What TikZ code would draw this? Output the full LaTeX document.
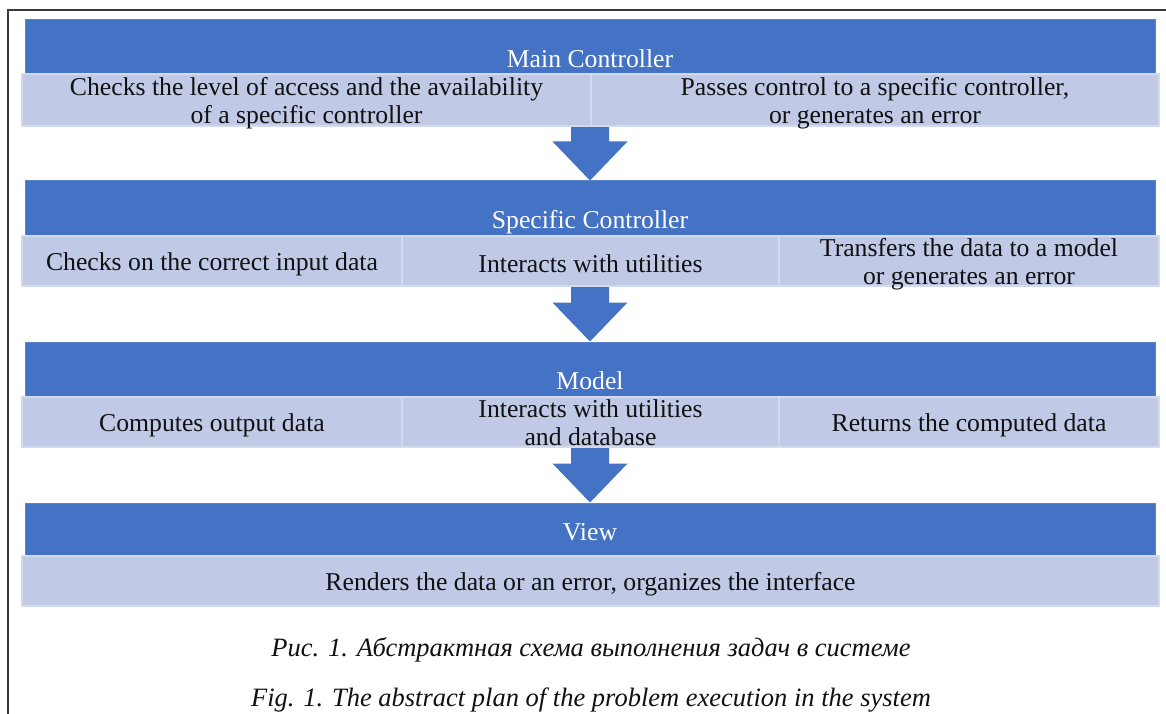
\documentclass[tikz,border=0pt]{standalone}
\usepackage{fontspec}
\setmainfont{Liberation Serif}
\usetikzlibrary{calc}
\definecolor{ink}{HTML}{111111}
\definecolor{rule}{HTML}{3A3A3A}
\definecolor{accent}{HTML}{4472C4}
\definecolor{band}{HTML}{C0C9E6}
\definecolor{bandedge}{HTML}{D4DAEE}
\tikzset{
  base/.style={inner sep=0pt, align=center, font=\fontsize{25.7}{28}\selectfont},
  hdr/.style={base, fill=accent, draw=accent!88!white, line width=1pt, minimum width=1130, minimum height=#1},
  ttl/.style={base, text=white, anchor=base},
  cell/.style={base, fill=band, draw=bandedge, line width=1.5pt, minimum width=#1, minimum height=50},
  txt/.style={base, text=ink, yshift=-3pt},
  figcap/.style={base, font=\fontsize{26.5}{28}\itshape, text=ink},
  down/.style={fill=accent},
}

\begin{document}
\begin{tikzpicture}[x=1pt, y=-1pt]
  \useasboundingbox (0,0) rectangle (1166,714);
  \draw[rule, line width=1.5pt] (8,714) -- (8,10) -- (1166,10);

  \node[hdr=54] (mc) at (590,47) {};
  \node[hdr=55] (sc) at (590,208.5) {};
  \node[hdr=55] (md) at (590,369.5) {};
  \node[hdr=53] (vw) at (590,529.5) {};

  \foreach \a/\b in {mc/sc, sc/md, md/vw}
    \fill[down] ($(\a.south)+(-19,0)$) -- ($(\b.north)+(-19,-39)$) -- ($(\b.north)+(-37.5,-39)$)
      -- (\b.north) -- ($(\b.north)+(37.5,-39)$) -- ($(\b.north)+(19,-39)$) -- ($(\a.south)+(19,0)$) -- cycle;

  \node[ttl] (mct) at (590,67.5) {Main Controller};
  \node[ttl] (sct) at (590,228) {Specific Controller};
  \node[ttl] (mdt) at (590,389) {Model};
  \node[ttl] (vwt) at (590,540) {View};

  \node[cell=569, minimum height=52, label={[txt]center:{Checks the level of access and the availability\\of a specific controller}}] (mc1) at (306.5,100) {};
  \node[cell=568, minimum height=52, label={[txt]center:{Passes control to a specific controller,\\or generates an error}}] (mc2) at (875,100) {};

  \node[cell=380, label={[txt]center:Checks on the correct input data}] (sc1) at (212,261) {};
  \node[cell=377, label={[txt]center:Interacts with utilities}] (sc2) at (590.5,261) {};
  \node[cell=380, label={[txt]center:{Transfers the data to a model\\or generates an error}}] (sc3) at (969,261) {};

  \node[cell=380, label={[txt]center:Computes output data}] (md1) at (212,422) {};
  \node[cell=377, label={[txt, yshift=2pt]center:{Interacts with utilities\\and database}}] (md2) at (590.5,422) {};
  \node[cell=380, label={[txt]center:Returns the computed data}] (md3) at (969,422) {};

  \node[cell=1137, label={[txt]center:{Renders the data or an error, organizes the interface}}] (vw1) at (590.5,581) {};

  \node[figcap] (ru) at (591,649.5) {Рис. 1. Абстрактная схема выполнения задач в системе};
  \node[figcap] (en) at (591,700.5) {Fig. 1. The abstract plan of the problem execution in the system};
\end{tikzpicture}
\end{document}
